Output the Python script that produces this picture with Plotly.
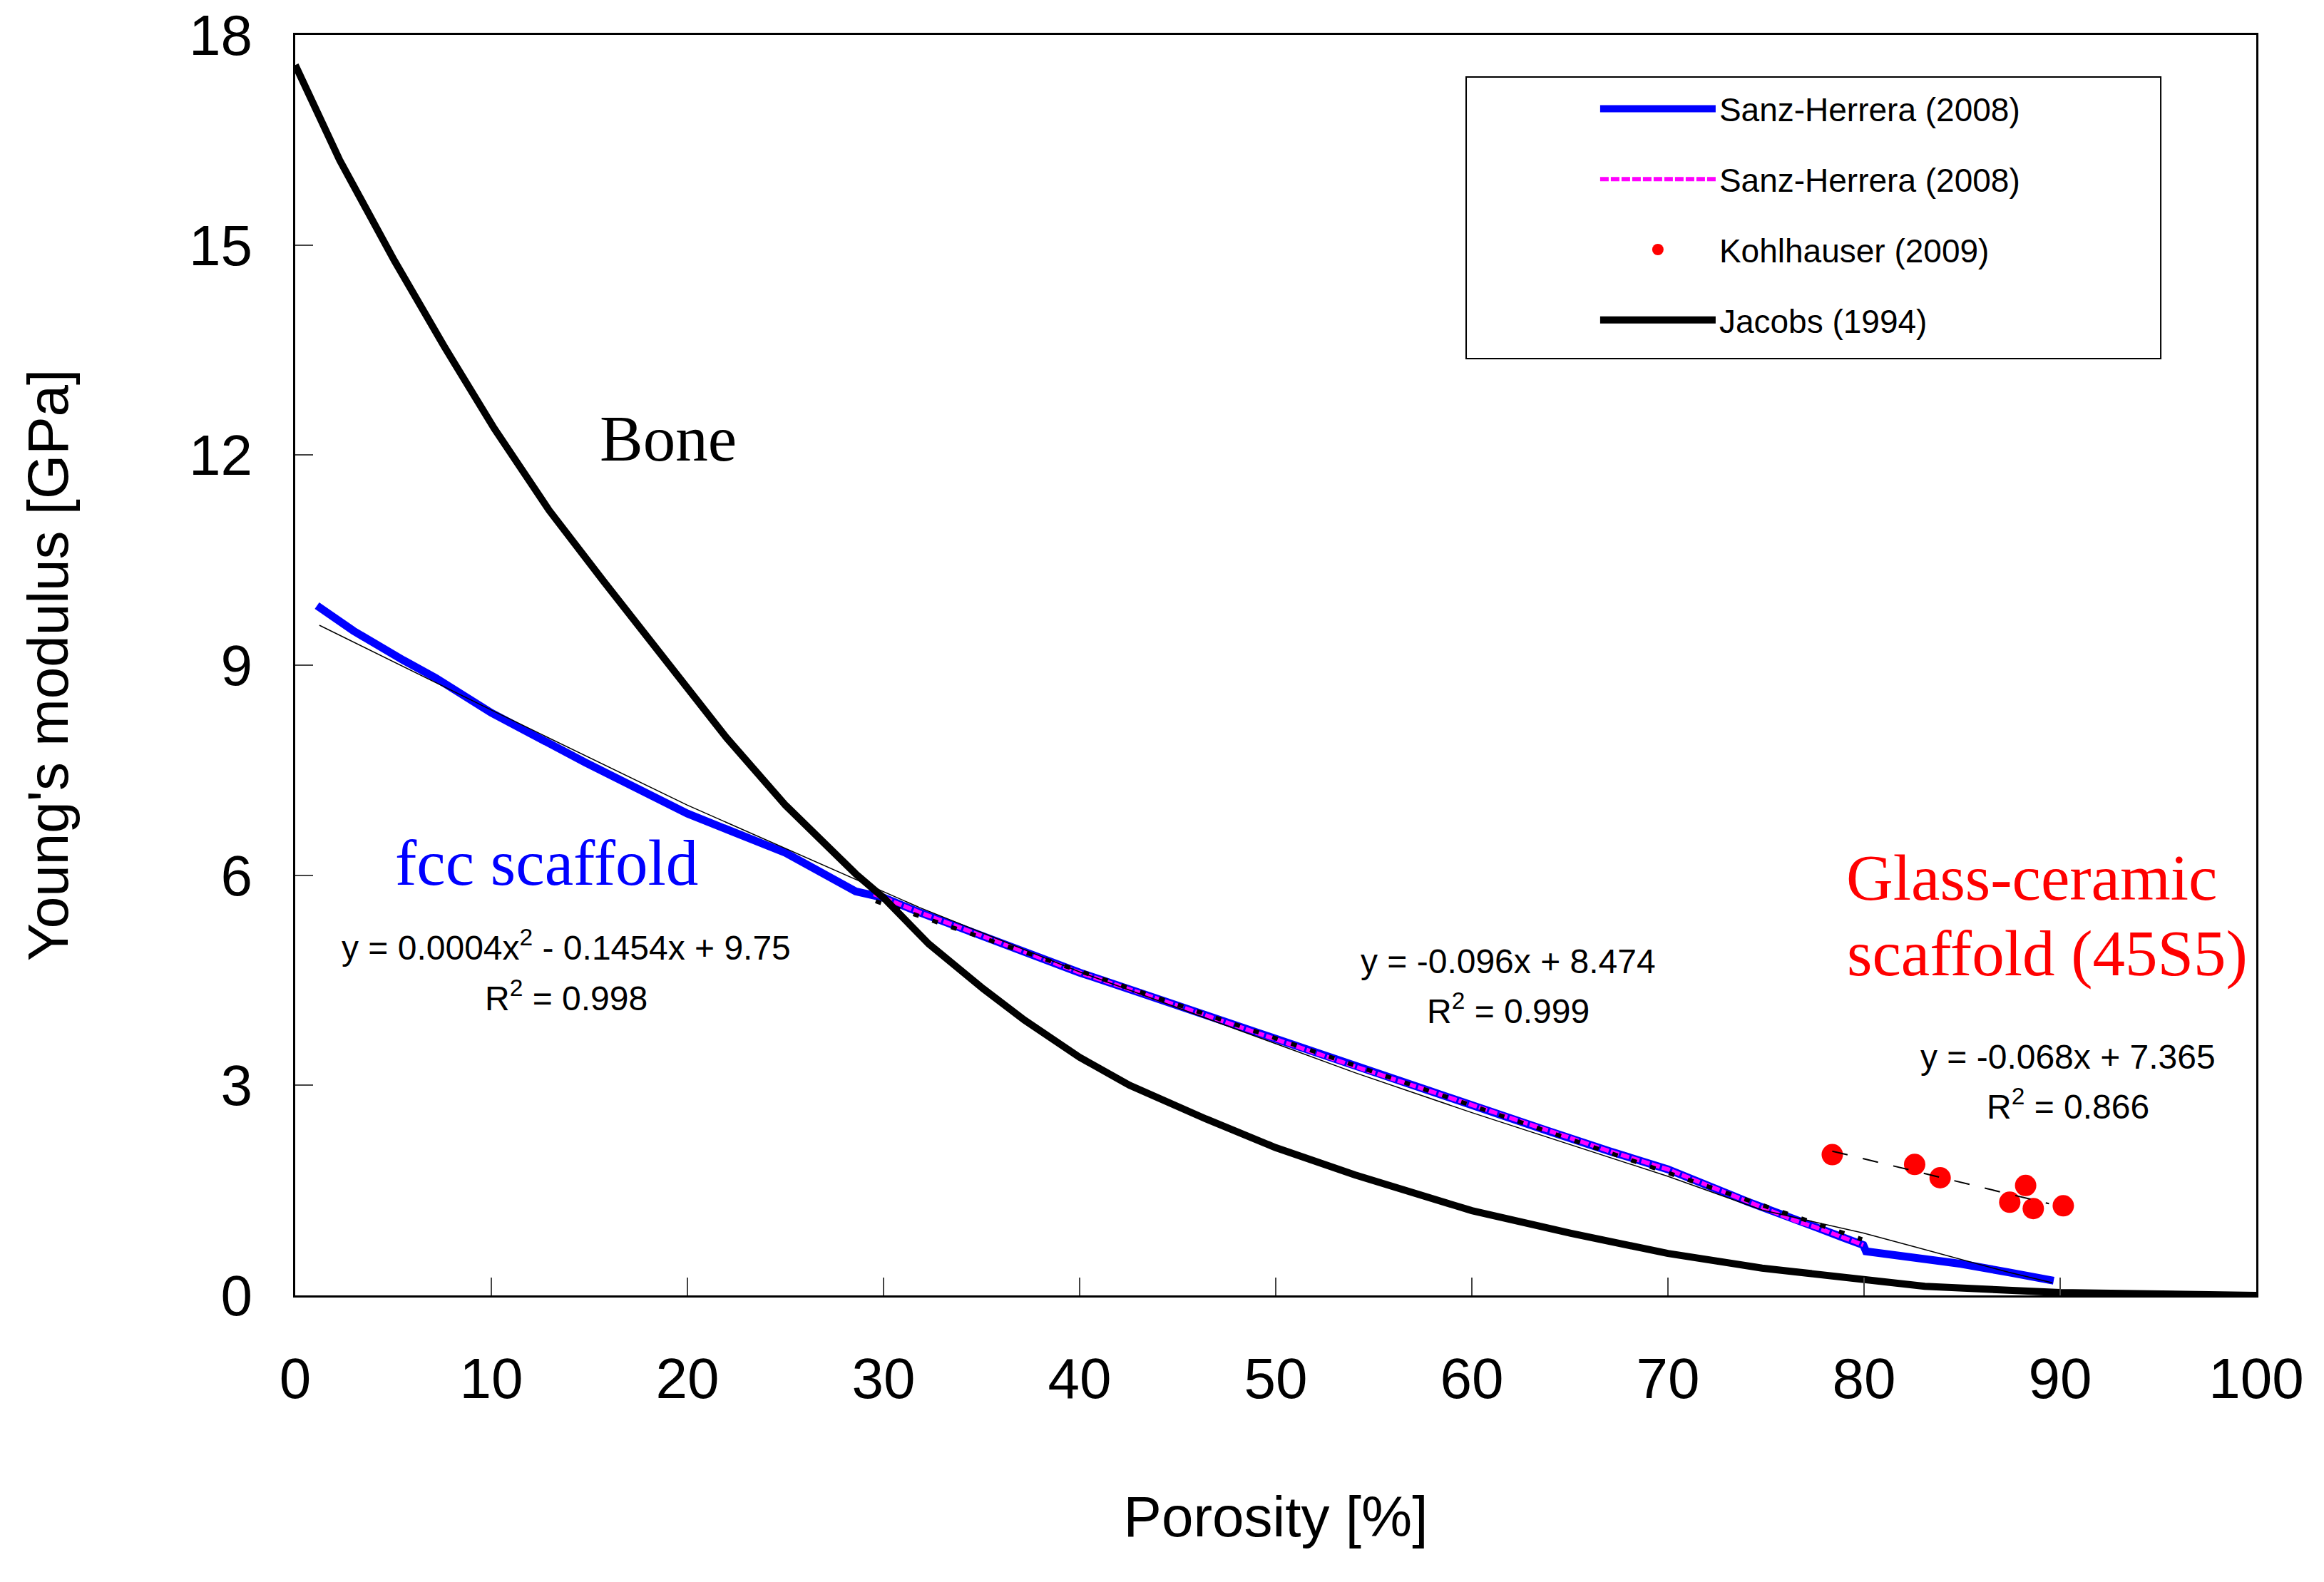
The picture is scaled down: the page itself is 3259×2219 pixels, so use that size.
import plotly.graph_objects as go

# porosity [%] / Young's modulus [GPa]
fcc_x = [1.11, 2.97, 5.52, 7.15, 10, 14.8, 20, 25, 28.58, 30, 31.83, 35.08, 38.32, 40,
         43.19, 46.44, 50, 54.04, 60, 63.77, 67.02, 70, 74.04, 76.46, 77.67, 78.9,
         79.96, 80.1, 82.5, 84.95, 87.37, 89.67]
fcc_y = [9.85, 9.49, 9.07, 8.82, 8.32, 7.61, 6.88, 6.32, 5.77, 5.68, 5.47, 5.13, 4.79, 4.61,
         4.31, 4.0, 3.65, 3.27, 2.72, 2.36, 2.06, 1.80, 1.34, 1.07, 0.96, 0.83,
         0.72, 0.63, 0.55, 0.45, 0.33, 0.21]

fcc2_x = [29.5, 30, 31.83, 35.08, 38.32, 40, 43.19, 46.44, 50, 54.04, 60, 63.77, 67.02,
          70, 74.04, 76.46, 77.67, 78.9, 79.96]
fcc2_y = [5.73, 5.68, 5.47, 5.13, 4.79, 4.61, 4.31, 4.0, 3.65, 3.27, 2.72, 2.36, 2.06,
          1.80, 1.34, 1.07, 0.96, 0.83, 0.72]

kohl_x = [78.38, 82.58, 83.88, 88.24, 87.43, 88.63, 90.16]
kohl_y = [2.01, 1.87, 1.68, 1.57, 1.33, 1.24, 1.28]

bone_x = [0, 2.27, 5.05, 7.6, 10.15, 12.95, 15.72, 18.5, 22.0, 25.0, 28.58, 30, 32.3,
          35.08, 37.19, 40, 42.55, 46.44, 50, 54.04, 60, 65.05, 70, 74.8, 80, 83.1,
          90, 95, 100]
bone_y = [17.57, 16.21, 14.78, 13.55, 12.38, 11.21, 10.2, 9.19, 7.96, 7.0, 6.02, 5.68, 5.02,
          4.38, 3.93, 3.40, 3.0, 2.52, 2.11, 1.72, 1.21, 0.886, 0.60, 0.39, 0.224, 0.13,
          0.04, 0.01, 0.0]

# trend lines
poly_x = [1.23, 10, 20, 30, 31.83, 40, 50, 54.04, 60, 70, 74.8, 79.96, 82.5, 84.95, 87.37, 89.6]
poly_y = [9.57, 8.36, 7.0, 5.77, 5.54, 4.62, 3.60, 3.18, 2.61, 1.70, 1.22, 0.89, 0.70, 0.51, 0.33, 0.18]
lin_x = [29.6, 79.9]
lin_y = [5.63, 0.80]
kohl_fit_x = [78.38, 89.43]
kohl_fit_y = [2.06, 1.31]

SANS = "Liberation Sans"
SERIF = "Liberation Serif"

fig = go.Figure()
fig.add_trace(go.Scatter(x=fcc_x, y=fcc_y, mode="lines", name="Sanz-Herrera (2008)",
                         line=dict(color="#0000FF", width=11), legendgroup="a"))
fig.add_trace(go.Scatter(x=fcc2_x, y=fcc2_y, mode="lines", name="Sanz-Herrera (2008)",
                         line=dict(color="#FF00FF", width=6, dash="12px,3px"), legendgroup="b"))
fig.add_trace(go.Scatter(x=kohl_x, y=kohl_y, mode="markers", name="Kohlhauser (2009)",
                         marker=dict(color="#FF0000", size=30), legendgroup="c"))
fig.add_trace(go.Scatter(x=bone_x, y=bone_y, mode="lines", name="Jacobs (1994)",
                         line=dict(color="black", width=10), legendgroup="d"))
fig.add_trace(go.Scatter(x=poly_x, y=poly_y, mode="lines", showlegend=False,
                         line=dict(color="black", width=1.5)))
fig.add_trace(go.Scatter(x=lin_x, y=lin_y, mode="lines", showlegend=False,
                         line=dict(color="black", width=6, dash="8px,20px")))
fig.add_trace(go.Scatter(x=kohl_fit_x, y=kohl_fit_y, mode="lines", showlegend=False,
                         line=dict(color="black", width=2, dash="22px,22px")))

notes = [
    ("Bone", 19.0, 12.23, "black", SERIF, 91, "center"),
    ("fcc scaffold", 12.8, 6.17, "#0000FF", SERIF, 91, "center"),
    ("Glass-ceramic", 79.0, 5.96, "#FF0000", SERIF, 91, "left"),
    ("scaffold (45S5)", 79.05, 4.88, "#FF0000", SERIF, 91, "left"),
    ("y = 0.0004x<sup>2</sup> - 0.1454x + 9.75", 13.8, 5.0, "black", SANS, 48, "center"),
    ("R<sup>2</sup> = 0.998", 13.8, 4.28, "black", SANS, 48, "center"),
    ("y = -0.096x + 8.474", 61.85, 4.77, "black", SANS, 48, "center"),
    ("R<sup>2</sup> = 0.999", 61.85, 4.09, "black", SANS, 48, "center"),
    ("y = -0.068x + 7.365", 90.4, 3.41, "black", SANS, 48, "center"),
    ("R<sup>2</sup> = 0.866", 90.4, 2.73, "black", SANS, 48, "center"),
]
for text, x, y, color, family, size, anchor in notes:
    fig.add_annotation(x=x, y=y, xref="x", yref="y", text=text, showarrow=False,
                       xanchor=anchor, yanchor="middle",
                       font=dict(family=family, size=size, color=color))

# legend frame
fig.add_shape(type="rect", xref="paper", yref="paper",
              x0=0.5971, x1=0.9513, y0=0.7432, y1=0.9666,
              line=dict(color="black", width=2), fillcolor="white", layer="below")

fig.update_xaxes(range=[0, 100], dtick=10, ticks="inside", ticklen=25, tickwidth=2,
                 showline=True, linewidth=3, linecolor="black", mirror=True,
                 showgrid=False, zeroline=False, ticklabelstandoff=45,
                 ticklabeloverflow="allow", automargin=False,
                 tickfont=dict(family=SANS, size=80, color="black"),
                 title=dict(text="Porosity [%]", standoff=122,
                            font=dict(family=SANS, size=80, color="black")))
fig.update_yaxes(range=[0, 18], dtick=3, ticks="inside", ticklen=25, tickwidth=2,
                 showline=True, linewidth=3, linecolor="black", mirror=True,
                 showgrid=False, zeroline=False, ticklabelstandoff=41,
                 ticklabeloverflow="allow", automargin=False,
                 tickfont=dict(family=SANS, size=80, color="black"),
                 title=dict(text="Young's modulus [GPa]", standoff=144,
                            font=dict(family=SANS, size=80, color="black")))

fig.update_layout(
    width=3251, height=2211,
    margin=dict(l=406, r=95, t=41, b=402),
    plot_bgcolor="white", paper_bgcolor="white",
    legend=dict(x=0.6636, y=0.9621, xanchor="left", yanchor="top",
                bgcolor="rgba(0,0,0,0)", borderwidth=0,
                font=dict(family=SANS, size=46, color="black"),
                traceorder="grouped", tracegroupgap=36, itemwidth=162),
)

fig.write_html("out.html")
